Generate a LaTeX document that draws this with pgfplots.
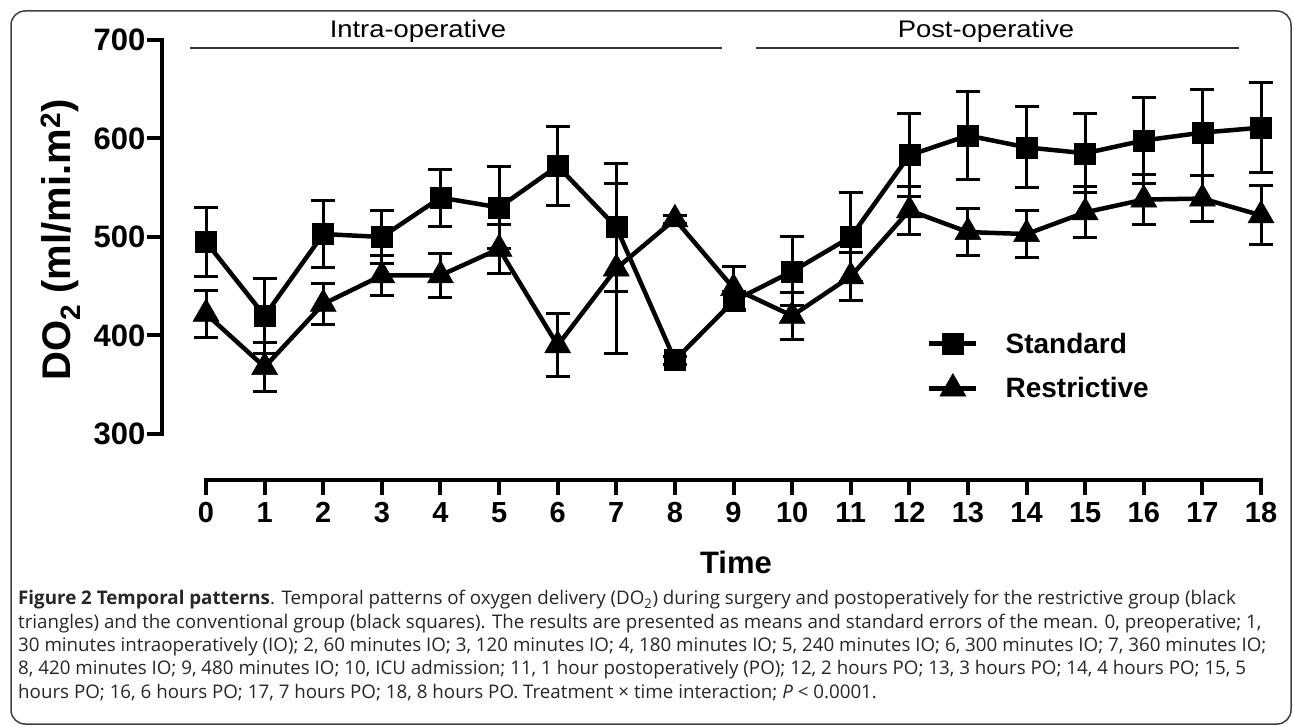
\documentclass[border=0pt]{standalone}
\usepackage{pgfplots}
\pgfplotsset{compat=1.18}
\usepackage{pgfplotstable}
\usepackage{fontspec}
\setmainfont{Open Sans}
\newfontfamily\arial{Liberation Sans}

% x, mean, SEM
\pgfplotstableread{
x y e
0 495 35
1 420 38
2 503 34
3 500 27
4 540 29
5 530 42
6 572 40
7 510 65
8 375 4
9 435 10
10 465 35
11 500 45
12 583 42
13 603 45
14 591 41
15 585 40
16 598 44
17 606 44
18 611 46
}\standard

\pgfplotstableread{
x y e
0 422 24
1 368 25
2 432 21
3 461 20
4 461 22
5 488 25
6 390 32
7 468 86
8 518 4
9 448 22
10 420 24
11 460 24
12 527 24
13 505 24
14 503 24
15 525 26
16 538 25
17 539 23
18 522 30
}\restrictive

\begin{document}
\begin{tikzpicture}[x=1pt, y=1pt]
\useasboundingbox (0,0) rectangle (1293,726);
\draw[rounded corners=14pt, line width=1.5pt, black!75] (11,715) rectangle (1291,2);

\begin{axis}[
  at={(162pt,246pt)}, anchor=south west,
  scale only axis, width=1099pt, height=440pt,
  xmin=-0.751, xmax=18, ymin=253.3, ymax=700,
  axis x line=bottom, axis y line=left,
  axis line style={draw=none, -},
  xtick={0,...,18}, ytick={300,400,500,600,700},
  tick align=outside, major tick length=15pt,
  every tick/.style={black, line width=4pt},
  /pgf/number format/assume math mode=true,
  xticklabel style={font=\arial\bfseries\fontsize{29}{29}\selectfont, yshift=-4pt},
  yticklabel style={font=\arial\bfseries\fontsize{31}{31}\selectfont, xshift=2pt},
  clip=false,
  legend style={draw=none, fill=none, inner sep=0pt, at={(0.696,0.335)}, anchor=north west,
    font=\arial\bfseries\fontsize{28}{28}\selectfont, row sep=19pt,
    nodes={inner sep=0pt},
    /tikz/every odd column/.append style={column sep=27pt}},
  legend cell align=left,
  legend image code/.code={\draw[mark repeat=2, mark phase=2, #1] plot coordinates {(0pt,0pt) (23.5pt,0pt) (47pt,0pt)};},
]
% separated axis lines
\draw[line width=4pt, line cap=rect] (axis cs:-0.751,300) -- (axis cs:-0.751,700);
\draw[line width=4pt, line cap=rect] (axis cs:0,253.3) -- (axis cs:18,253.3);

\addplot[black, line width=4.5pt, mark=square*, mark size=10.5pt, mark options={solid, line width=0.5pt},
  error bars/.cd, y dir=both, y explicit,
  error bar style={line width=3pt, black},
  error mark options={rotate=90, mark size=12pt, line width=3pt}]
  table[x=x, y=y, y error=e] {\standard};
\addlegendentry{Standard}

\addplot[black, line width=4.5pt, mark=triangle*, mark size=15pt, mark options={solid, line width=0.5pt},
  error bars/.cd, y dir=both, y explicit,
  error bar style={line width=3pt, black},
  error mark options={rotate=90, mark size=12pt, line width=3pt}]
  table[x=x, y=y, y error=e] {\restrictive};
\addlegendentry{Restrictive}
\end{axis}

% phase bars
\draw[line width=2pt, black!80] (190,678) -- (722,678);
\draw[line width=2pt, black!80] (756,678) -- (1239,678);
\node[font=\arial\fontsize{24}{24}\selectfont, anchor=base, xscale=1.14] at (418,688) {Intra-operative};
\node[font=\arial\fontsize{24}{24}\selectfont, anchor=base, xscale=1.14] at (986,688) {Post-operative};

% axis titles
\node[rotate=90, font=\arial\bfseries\fontsize{40}{40}\selectfont] at (61,486) {DO\textsubscript{2} (ml/mi.m\textsuperscript{2})};
\node[font=\arial\bfseries\fontsize{31}{31}\selectfont, anchor=base] at (736,153) {Time};

% caption
\node[anchor=base west, align=left, inner sep=0pt, text=black!85,
  font=\fontsize{18.75}{23.3}\selectfont] at (18,28) {%
\textbf{Figure 2 Temporal patterns}. Temporal patterns of oxygen delivery (DO\textsubscript{2}) during surgery and postoperatively for the restrictive group (black\\
triangles) and the conventional group (black squares). The results are presented as means and standard errors of the mean. 0, preoperative; 1,\\
30 minutes intraoperatively (IO); 2, 60 minutes IO; 3, 120 minutes IO; 4, 180 minutes IO; 5, 240 minutes IO; 6, 300 minutes IO; 7, 360 minutes IO;\\
8, 420 minutes IO; 9, 480 minutes IO; 10, ICU admission; 11, 1 hour postoperatively (PO); 12, 2 hours PO; 13, 3 hours PO; 14, 4 hours PO; 15, 5\\
hours PO; 16, 6 hours PO; 17, 7 hours PO; 18, 8 hours PO. Treatment × time interaction; \textit{P} < 0.0001.};
\end{tikzpicture}
\end{document}
